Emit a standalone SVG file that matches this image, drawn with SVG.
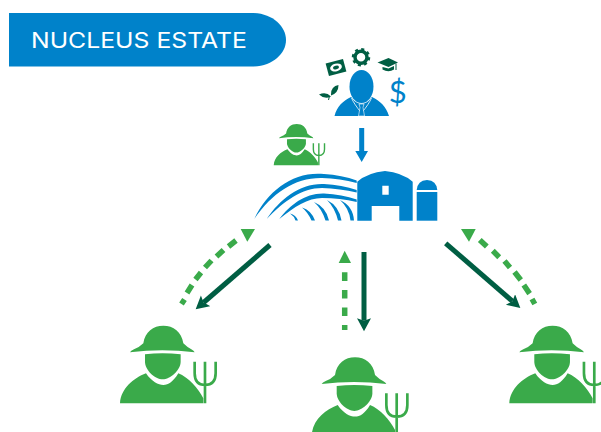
<svg xmlns="http://www.w3.org/2000/svg" width="601" height="432" viewBox="0 0 601 432">
<style>
.g{fill:#3aaa4a}.b{fill:#0082ca}.d{fill:#005e43}
.dash{fill:none;stroke:#3aaa4a;stroke-width:5.5}
.solid{fill:none;stroke:#005e43;stroke-width:5}
.fork{fill:none;stroke:#3aaa4a;stroke-width:8}
.arc{fill:#0082ca}
</style>
<defs>
<g id="farmer-shape">
<path class="g" d="M60 97Q62 92 72 88Q88 82 100 70C105 35 130 17 160 17C190 17 215 35 220 70Q232 82 244 88Q252 92 254 97Q157 85 60 97Z"/>
<path class="g" d="M105 103Q157 97 212 103V125C212 150 180 178 158 178C135 178 105 150 105 125Z"/>
<path class="g" d="M30 250C33 205 70 175 108 160C125 185 145 195 160 195C175 195 190 185 205 160C235 172 265 205 280 235V250Z"/>
<path class="fork" d="M254 125V160Q254 195 285 195Q317 195 317 160V125M285 125V250"/>
</g>
<marker id="head-dark" markerUnits="userSpaceOnUse" markerWidth="16" markerHeight="16" refX="2.500" refY="7" orient="auto"><path class="d" d="M0 0L13 7L0 14L2.500 7Z"/></marker>
</defs>
<g id="banner">
<path class="b" d="M9 13H252C272 13 286 26 286 40C286 54 272 66.500 252 66.500H9Z"/>
<text x="31" y="48.300" font-family="Inter,'Liberation Sans',sans-serif" font-size="21.500" font-weight="400" fill="#fff" textLength="216" lengthAdjust="spacingAndGlyphs">NUCLEUS ESTATE</text>
</g>
<g id="advisor">
<path class="b" d="M334.500 116C337 106 343 101 351 97Q361.500 103 372 97C380 101 386 106 389 116Z"/>
<path d="M351.500 98Q354 104 361.500 113Q369 104 371.500 98" fill="none" stroke="#fff" stroke-width=".8"/>
<path class="b" d="M359 104H364L363 107.500L364.500 116H358.500L360 107.500Z" stroke="#fff" stroke-width=".6"/>
<ellipse cx="361.500" cy="86.500" rx="12.800" ry="17.300" fill="#fff"/>
<ellipse class="b" cx="361.500" cy="86.500" rx="12" ry="16.500"/>
<g transform="rotate(-15 336 67.500)"><rect class="d" x="327" y="61" width="18" height="13"/><ellipse cx="336" cy="67.500" rx="6" ry="3.800" fill="#fff"/><ellipse class="d" cx="336" cy="67.500" rx="3" ry="1.800"/></g>
<circle cx="361" cy="57.300" r="6" fill="none" stroke="#005e43" stroke-width="3.500"/>
<circle cx="361" cy="57.300" r="8" fill="none" stroke="#005e43" stroke-width="2.500" stroke-dasharray="3 3.280"/>
<path class="d" d="M377.500 62.500L388.500 58L398 62.500L388.500 67Z"/>
<path class="d" d="M382.500 67V69.500Q388.500 73 394 69.500V66L388.500 68.500Z"/>
<path class="d" d="M395.500 63.500H396.500V70H395.500Z"/>
<path class="d" d="M319 94.500Q326 91 331 96.500Q325 100 319 94.500Z"/>
<path class="d" d="M331 94.500Q331 86 338.500 85Q338.500 93 331 95.500Z"/>
<path d="M329.500 96Q329 98 328.500 100" fill="none" stroke="#005e43"/>
<text x="397.700" y="103" text-anchor="middle" font-family="Lato,'Open Sans',sans-serif" font-size="31" font-weight="400" fill="#0082ca">$</text>
</g>
<g id="estate">
<path class="b" d="M357.300 181.700Q368 172.500 385 171Q402 172.500 412.700 181.700V220.700H399.300V206H371.700V220.700H357.300ZM382.300 185.700V194.700H388.700V185.700Z" fill-rule="evenodd"/>
<path class="b" d="M416.700 190Q417.500 180.500 427 180Q436.500 180.500 437.300 190Z"/>
<path class="b" d="M416.700 192H437.300V220.700H416.700Z"/>
<path class="arc" d="M254.300 219C268 190 294 171 324 174Q342 175 356.700 180.500V183Q340 178.500 322 178C295 177.500 272 193 254.300 219Z"/>
<path class="arc" d="M266.700 219C280 199 300 183 324 184Q342 185 356.700 190V192.500Q340 188.500 322 188C302 188 284 201 266.700 219Z"/>
<path class="arc" d="M279.300 219C290 205 305 193 324 193.500Q342 194.500 356.700 199.500V202Q340 198 322 198C308 198 294 207 279.300 219Z"/>
<path class="arc" d="M290 213.500Q296 215 298 220.500H295.500Q294 216 290 213.500Z"/>
<path class="arc" d="M302 207.500Q311 210 315 220.500H311.500Q308 212.500 302 207.500Z"/>
<path class="arc" d="M314 202Q326 207 329 220.500H325.500Q322 209 314 202Z"/>
<path class="arc" d="M327 200Q339 206 341.500 220.500H338Q335 208 327 200Z"/>
<path class="arc" d="M340 200Q353 206 354 220.500H350.500Q349 208 340 200Z"/>
</g>
<g id="local-farmer"><use href="#farmer-shape" transform="translate(268.400 121) scale(.177)"/></g>
<g id="farmer-left"><use href="#farmer-shape" transform="translate(110 320) scale(.3333)"/></g>
<g id="farmer-center"><use href="#farmer-shape" transform="translate(301.700 351.600) scale(.3333)"/></g>
<g id="farmer-right"><use href="#farmer-shape" transform="translate(499.300 320) scale(.3333)"/></g>
<g id="connectors">
<path class="b" d="M359.200 128H364.200V151H368L361.700 162L355.300 151H359.200Z"/>
<path class="solid" d="M270 245L203.600 302.500" marker-end="url(#head-dark)"/>
<path class="solid" d="M364 252V320.700" marker-end="url(#head-dark)"/>
<path class="solid" d="M445.700 243.300L512.400 301.200" marker-end="url(#head-dark)"/>
<path class="dash" d="M344.700 330V325M344.700 316V307.500M344.700 298.500V290M344.700 281V272.300"/>
<path class="g" d="M344.700 250.700L351 263H338.700Z"/>
<path class="dash" d="M181.500 304L184.500 299.500M187 293L192 285M195.500 279.500L201 272.500M205 267.500L211.500 260.500M216.500 256.500L223.500 250M228.500 246.500L236 240.500"/>
<path class="g" d="M240.700 229H255L247.300 241.700Z"/>
<path class="dash" d="M479.800 240L486.800 246.600M492.800 250.800L499.200 257.200M504.500 261L510 267.500M514.500 272L520.800 280M523.800 285L529.600 293.600M532 299L534.800 304"/>
<path class="g" d="M461 229H475.700L469 241.700Z"/>
</g>
</svg>
